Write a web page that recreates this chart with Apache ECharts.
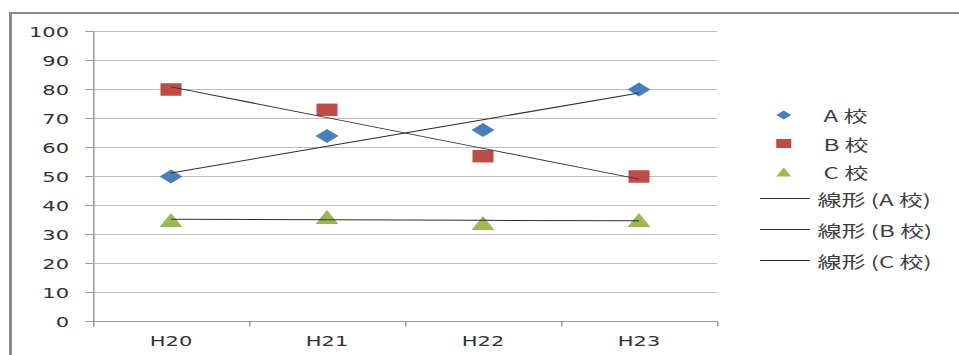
<!DOCTYPE html>
<html>
<head>
<meta charset="utf-8">
<script src="https://cdn.jsdelivr.net/npm/echarts@6/dist/echarts.min.js"></script>
<style>
  html, body { margin: 0; padding: 0; background: #fff; overflow: hidden; }
  /* chart is drawn narrow and widened horizontally */
  #chart { position: absolute; left: 0; top: 0; width: 639.33px; height: 355px;
           transform: scaleX(1.5); transform-origin: 0 0; }
  #frame { position: absolute; left: 9px; top: 12px; width: 960px; height: 350px;
           border-left: 3px solid #8a8a8a; border-top: 2px solid #8a8a8a; pointer-events: none; }
</style>
</head>
<body>
<div id="chart"></div>
<div id="frame"></div>
<script>
// Scores per school by year
const categories = ['H20', 'H21', 'H22', 'H23'];
const schoolA = [50, 64, 66, 80];
const schoolB = [80, 73, 57, 50];
const schoolC = [35, 36, 34, 35];
const seriesNames = ['A 校', 'B 校', 'C 校'];
const trendNames = ['線形 (A 校)', '線形 (B 校)', '線形 (C 校)'];

// Least-squares linear trend evaluated at each category position
function linearTrend(vals) {
  const n = vals.length;
  let sx = 0, sy = 0, sxx = 0, sxy = 0;
  vals.forEach((v, i) => { sx += i; sy += v; sxx += i * i; sxy += i * v; });
  const slope = (n * sxy - sx * sy) / (n * sxx - sx * sx);
  const intercept = (sy - slope * sx) / n;
  return vals.map((_, i) => intercept + slope * i);
}

const font = 'DejaVu Sans';
const cjk = '"Noto Sans CJK JP", sans-serif';

const chart = echarts.init(document.getElementById('chart'), null,
  { renderer: 'svg', width: 639.33, height: 355 });

const trendLine = (name, vals) => ({
  name: name, type: 'line', data: linearTrend(vals), symbol: 'none', silent: true,
  lineStyle: { color: '#303030', width: 1 }, itemStyle: { color: '#303030' }, z: 3
});

chart.setOption({
  animation: false,
  grid: { left: 62, right: 161.33, top: 31.5, bottom: 33.5 },
  legend: [
    {
      data: seriesNames, orient: 'vertical', left: 517.5, top: 107, padding: 0,
      itemWidth: 10, itemHeight: 9, itemGap: 12.5, symbolKeepAspect: false,
      itemStyle: { opacity: 1 },
      textStyle: { fontFamily: cjk, fontSize: 16, color: '#404040', lineHeight: 16, padding: [0, 0, 0, 16.5] }
    },
    {
      data: trendNames.map(n => ({ name: n, icon: 'rect' })),
      orient: 'vertical', left: 506.7, top: 190.5, padding: 0,
      itemWidth: 33.3, itemHeight: 1, itemGap: 15,
      itemStyle: { color: '#303030' },
      textStyle: { fontFamily: cjk, fontSize: 16, color: '#404040', lineHeight: 16 }
    }
  ],
  xAxis: {
    type: 'category', data: categories, boundaryGap: true,
    axisLine: { lineStyle: { color: '#9a9a9a', width: 1 } },
    axisTick: { show: true, length: 5, lineStyle: { color: '#9a9a9a' } },
    axisLabel: { margin: 12, fontFamily: font, fontSize: 14, color: '#333' },
    splitLine: { show: false }
  },
  yAxis: {
    type: 'value', min: 0, max: 100, interval: 10,
    axisLine: { show: true, lineStyle: { color: '#9a9a9a', width: 1 } },
    axisTick: { show: true, length: 5.3, lineStyle: { color: '#9a9a9a' } },
    axisLabel: { margin: 16, fontFamily: font, fontSize: 14, color: '#333' },
    splitLine: { lineStyle: { color: '#bdbdbd', width: 1 } }
  },
  series: [
    { name: seriesNames[0], type: 'scatter', data: schoolA, symbol: 'diamond',
      symbolSize: [15.3, 14], itemStyle: { color: '#4A7EBB', opacity: 1 }, z: 2 },
    { name: seriesNames[1], type: 'scatter', data: schoolB, symbol: 'rect',
      symbolSize: [14, 12.5], itemStyle: { color: '#BE4B48', opacity: 1 }, z: 2 },
    { name: seriesNames[2], type: 'scatter', data: schoolC, symbol: 'triangle',
      symbolSize: [15.3, 14], itemStyle: { color: '#98B954', opacity: 1 }, z: 2 },
    trendLine(trendNames[0], schoolA),
    trendLine(trendNames[1], schoolB),
    trendLine(trendNames[2], schoolC)
  ]
});
</script>
</body>
</html>
